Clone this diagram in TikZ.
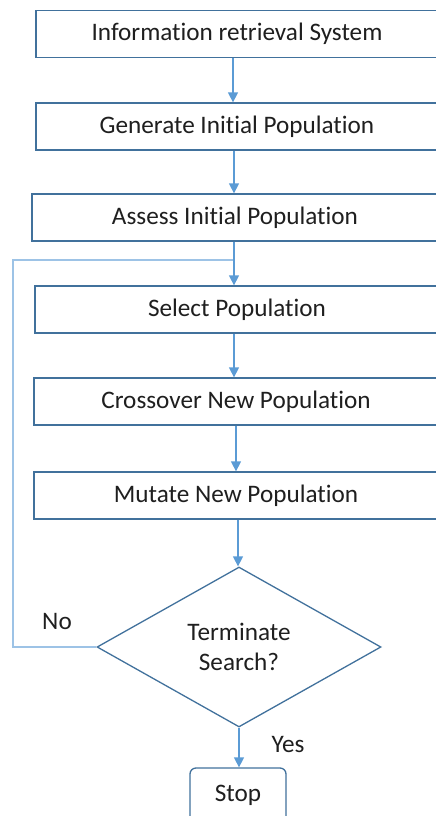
\documentclass[tikz,border=0pt]{standalone}
\usepackage{fontspec}
\setmainfont{Carlito}[Ligatures={NoCommon}]
\usetikzlibrary{shapes.geometric,arrows.meta}
\definecolor{boxline}{HTML}{41719C}
\definecolor{flow}{HTML}{5B9BD5}
\definecolor{loopline}{HTML}{9DC3E6}
\begin{document}
\begin{tikzpicture}[x=1pt,y=-1pt,
  every node/.style={font=\fontsize{25.2}{30}\selectfont, text=black!88},
  procbox/.style={draw=boxline, line width=1.3pt, fill=white, rectangle,
    minimum height=47pt, inner sep=0pt},
  decision/.style={draw=boxline, line width=1.3pt, fill=white, diamond,
    minimum width=284pt, minimum height=160pt, inner sep=0pt, align=center},
  endbox/.style={draw=boxline, line width=1.3pt, fill=white, rectangle,
    rounded corners=6pt, minimum width=96pt, minimum height=54pt, inner sep=0pt},
  flowarrow/.style={draw=flow, line width=1.4pt,
    -{Triangle[width=10pt,length=10pt]}},
  loop/.style={draw=loopline, line width=2.6pt},
  lbl/.style={inner sep=0pt}]
\useasboundingbox (0,0) rectangle (436,816);
\clip (0,0) rectangle (436,816);

% process steps
\node[procbox, minimum width=402pt] (ir)   at (237,34)    {Information retrieval System};
\node[procbox, minimum width=402pt] (gen)  at (237,126.5) {Generate Initial Population};
\node[procbox, minimum width=406pt] (ass)  at (235,217.5) {Assess Initial Population};
\node[procbox, minimum width=404pt] (sel)  at (237,309.5) {Select Population};
\node[procbox, minimum width=404pt] (cro)  at (236,401.5) {Crossover New Population};
\node[procbox, minimum width=404pt] (mut)  at (236,495.5) {Mutate New Population};

% decision and end
\node[decision] (term) at (239,647) {Terminate\\Search?};
\node[endbox] (stop) at (238,795) {Stop};

% branch labels
\node[lbl] (no)  at (57,621)  {No};
\node[lbl] (yes) at (288,744) {Yes};

% loop back from the decision
\coordinate (loopL) at (13,260);
\coordinate (join) at (234,260);
\draw[loop] (term.west) -| (loopL) -- (join);

% main flow
\draw[flowarrow] ([xshift=-4pt]ir.south)  -- ([xshift=-4pt]ir.south |- gen.north);
\draw[flowarrow] ([xshift=-3pt]gen.south) -- ([xshift=-3pt]gen.south |- ass.north);
\draw[flowarrow] ([xshift=-1pt]ass.south) -- ([xshift=-1pt]ass.south |- sel.north);
\draw[flowarrow] ([xshift=-3pt]sel.south) -- ([xshift=-3pt]sel.south |- cro.north);
\draw[flowarrow] (cro.south) -- (cro.south |- mut.north);
\draw[flowarrow] ([xshift=2pt]mut.south) -- ([xshift=2pt]mut.south |- term.north);
\draw[flowarrow] (term.south) -- (term.south |- stop.north);
\end{tikzpicture}
\end{document}
